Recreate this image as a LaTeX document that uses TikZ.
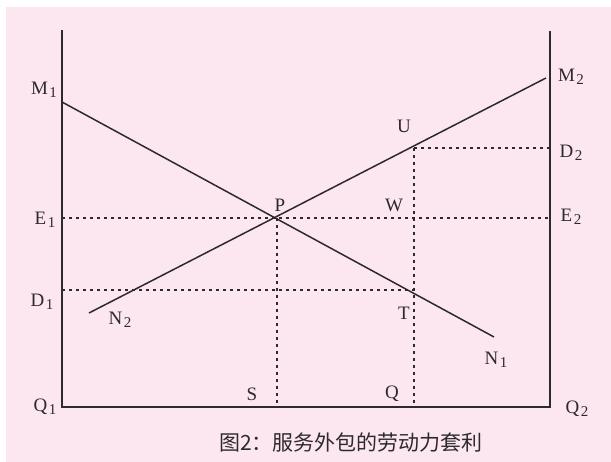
\documentclass[tikz,border=0pt]{standalone}
\usepackage{fontspec}
\setmainfont{Liberation Serif}
\newfontfamily\cjk{Noto Sans CJK SC}
\usepackage{tikz}
\usetikzlibrary{calc}
\definecolor{bgpink}{RGB}{252,231,240}
\definecolor{inkgray}{RGB}{45,42,44}
\newcommand{\lbl}[2]{#1\hspace{1.5pt}\raisebox{-2.5pt}{\fontsize{15}{15}\selectfont #2}}
\tikzset{
  curve/.style={draw=inkgray,line width=1.5pt},
  guide/.style={draw=inkgray,line width=1.4pt,dash pattern=on 3pt off 4pt},
  tag/.style={text=inkgray,inner sep=0pt,font=\fontsize{19}{22}\selectfont}
}

\begin{document}
\begin{tikzpicture}[x=1pt,y=-1pt]
\useasboundingbox (0,0) rectangle (611,462);
\fill[bgpink] (6,7) rectangle (611,462);
% corners of the box
\coordinate (Q1) at (62,407);
\coordinate (Q2) at (550,407);
\coordinate (top1) at (62,30);
\coordinate (top2) at (550,31);
% the two lines
\coordinate (M1) at (62,102);
\coordinate (N1) at (494,337);
\coordinate (N2) at (89,313);
\coordinate (M2) at (546,78);
\coordinate (P) at (276,218);
\coordinate (E2) at (550,218);
\coordinate (E1) at (62,218);
\coordinate (S) at (277,407);
\coordinate (U) at (414,148);
\coordinate (D2) at (550,148);
\coordinate (Q) at (414,407);
\coordinate (D1) at (62,290);
\coordinate (T) at (414,290);
% dotted guides
\draw[guide] (E1)--(E2);
\draw[guide] (D1)--(T);
\draw[guide] (U)--(D2);
\draw[guide] (U)--(Q);
\draw[guide] (P -| S)--(S);
% axes
\draw[curve] (top1)--(Q1)--(Q2)--(top2);
\draw[curve] (M1)--(N1);
\draw[curve] (N2)--(M2);
% labels
\node[tag] (lM1) at (44,90) {\lbl{M}{1}};
\node[tag] (lM2) at (571,77) {\lbl{M}{2}};
\node[tag] (lD2) at (571,153) {\lbl{D}{2}};
\node[tag] (lE2) at (571,217) {\lbl{E}{2}};
\node[tag] (lE1) at (45,220) {\lbl{E}{1}};
\node[tag] (lD1) at (42,302) {\lbl{D}{1}};
\node[tag] (lN2) at (120,320) {\lbl{N}{2}};
\node[tag] (lN1) at (496,360) {\lbl{N}{1}};
\node[tag] (lQ1) at (45,407) {\lbl{Q}{1}};
\node[tag] (lQ2) at (577,409) {\lbl{Q}{2}};
\node[tag] (lS) at (252,394) {S};
\node[tag] (lQ) at (392,394) {Q};
\node[tag] (lT) at (404,313) {T};
\node[tag] (lW) at (394,205) {W};
\node[tag] (lP) at (280,205) {P};
\node[tag] (lU) at (404,126) {U};
\node[text=inkgray,inner sep=0pt] (cap) at (351,443) {\cjk\fontsize{21}{24}\selectfont 图2：服务外包的劳动力套利};
\end{tikzpicture}
\end{document}
